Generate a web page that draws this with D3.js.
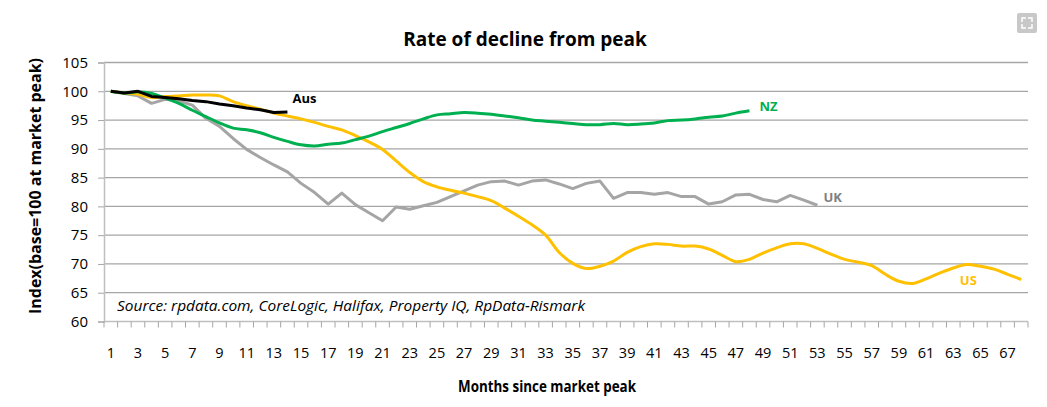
<!DOCTYPE html>
<html>
<head>
<meta charset="utf-8">
<script src="https://cdn.jsdelivr.net/npm/d3@7"></script>
<style>
  body { margin: 0; background: #fff; }
  svg { display: block; font-family: "Open Sans", "Noto Sans", sans-serif; }
</style>
</head>
<body>
<svg id="chart" width="1047" height="407"></svg>
<script>
// months since peak (category axis)
var months = d3.range(1, 69);
var yTicks = [60, 65, 70, 75, 80, 85, 90, 95, 100, 105];

// index values, one per month from month 1
var aus = [100, 99.7, 100, 99.1, 98.9, 98.7, 98.4, 98.2, 97.8, 97.5, 97.1, 96.8, 96.3, 96.4];
var nz = [100, 99.7, 99.9, 99.6, 98.8, 97.9, 96.7, 95.6, 94.5, 93.6, 93.3, 92.8, 92.0, 91.3, 90.7,
    90.5, 90.8, 91.0, 91.6, 92.2, 93.0, 93.7, 94.4, 95.2, 95.9, 96.1, 96.3, 96.2, 96.0, 95.7,
    95.4, 95.0, 94.8, 94.6, 94.4, 94.2, 94.2, 94.4, 94.2, 94.3, 94.5, 94.9, 95.0, 95.2, 95.5,
    95.7, 96.2, 96.6];
var uk = [100, 99.6, 99.2, 97.9, 98.6, 98.3, 97.6, 95.3, 93.9, 91.8, 89.9, 88.5, 87.2, 86.0, 84.0,
    82.4, 80.4, 82.3, 80.3, 78.9, 77.5, 79.9, 79.5, 80.1, 80.7, 81.7, 82.7, 83.7, 84.3, 84.4,
    83.7, 84.4, 84.6, 83.9, 83.1, 84.0, 84.4, 81.4, 82.4, 82.4, 82.1, 82.4, 81.7, 81.7, 80.4,
    80.8, 82.0, 82.1, 81.2, 80.8, 81.9, 81.1, 80.2];
var us = [100, 99.7, 99.5, 98.9, 99.1, 99.2, 99.35, 99.35, 99.2, 98.2, 97.5, 96.9, 96.2, 95.7, 95.2,
    94.6, 93.9, 93.3, 92.3, 91.2, 89.9, 87.9, 85.9, 84.3, 83.4, 82.8, 82.3, 81.7, 81.0, 79.7,
    78.3, 76.8, 75.0, 72.0, 70.1, 69.2, 69.6, 70.5, 72.0, 73.0, 73.5, 73.4, 73.1, 73.1, 72.6,
    71.5, 70.4, 70.8, 71.9, 72.8, 73.5, 73.5, 72.7, 71.7, 70.8, 70.3, 69.7, 68.2, 67.0, 66.6,
    67.4, 68.4, 69.3, 69.9, 69.6, 69.1, 68.2, 67.3];

var svg = d3.select('#chart');

/* plot box (note: "top" is reserved on window, so use other names) */
var plotLeft = 104, plotRight = 1028, plotTop = 62.5, plotBottom = 321.5;

var x = d3.scaleBand().domain(months).range([plotLeft, plotRight]).padding(0);
var y = d3.scaleLinear().domain([60, 105]).range([plotBottom, plotTop]);
var cx = function(m) { return x(m) + x.bandwidth() / 2; };

/* title */
svg.append('text')
    .attr('x', 525).attr('y', 46)
    .attr('text-anchor', 'middle')
    .style('font-size', '19px').style('font-weight', 'bold').style('fill', '#000')
    .text('Rate of decline from peak');

/* horizontal gridlines */
svg.append('g').selectAll('line')
    .data(yTicks.filter(function(t) { return t > 60; }))
    .enter().append('line')
    .attr('x1', plotLeft).attr('x2', plotRight)
    .attr('y1', function(d) { return y(d); })
    .attr('y2', function(d) { return y(d); })
    .style('stroke', '#a6a6a6').style('stroke-width', 1.3);

/* y axis */
var yAxis = svg.append('g')
    .attr('transform', 'translate(' + plotLeft + ',0)')
    .call(d3.axisLeft(y).tickValues(yTicks).tickSize(6).tickPadding(10));
yAxis.select('.domain').style('stroke', '#bfbfbf').style('stroke-width', 1.5);
yAxis.selectAll('.tick line').style('stroke', '#a6a6a6');
yAxis.selectAll('.tick text')
    .style('font-size', '15px').style('fill', '#000').style('font-family', '"Open Sans", sans-serif');

svg.append('text')
    .attr('transform', 'translate(41,' + ((plotTop + plotBottom) / 2 - 6) + ') rotate(-90)')
    .attr('text-anchor', 'middle')
    .attr('textLength', 256).attr('lengthAdjust', 'spacingAndGlyphs')
    .style('font-size', '16px').style('font-weight', 'bold')
    .text('Index(base=100 at market peak)');

/* x axis: line, category boundary ticks, odd-month labels */
svg.append('line')
    .attr('x1', plotLeft).attr('x2', plotRight)
    .attr('y1', plotBottom).attr('y2', plotBottom)
    .style('stroke', '#bfbfbf').style('stroke-width', 1.5);

var bounds = months.map(function(m) { return x(m); }).concat([plotRight]);
svg.append('g').selectAll('line')
    .data(bounds)
    .enter().append('line')
    .attr('x1', function(d) { return d; }).attr('x2', function(d) { return d; })
    .attr('y1', plotBottom).attr('y2', plotBottom + 6)
    .style('stroke', '#a6a6a6');

svg.append('g').selectAll('text')
    .data(months.filter(function(m) { return m % 2 === 1; }))
    .enter().append('text')
    .attr('x', function(d) { return cx(d); })
    .attr('y', 358)
    .attr('text-anchor', 'middle')
    .style('font-size', '14.5px').style('fill', '#000')
    .text(function(d) { return d; });

svg.append('text')
    .attr('x', 547).attr('y', 392)
    .attr('text-anchor', 'middle')
    .attr('textLength', 178).attr('lengthAdjust', 'spacingAndGlyphs')
    .style('font-size', '16.5px').style('font-weight', 'bold')
    .text('Months since market peak');

/* source note */
svg.append('text')
    .attr('x', 117).attr('y', 311)
    .attr('textLength', 468).attr('lengthAdjust', 'spacingAndGlyphs')
    .style('font-size', '14.5px').style('font-style', 'italic').style('fill', '#000')
    .text('Source:  rpdata.com, CoreLogic, Halifax, Property IQ, RpData-Rismark');

/* series */
var straight = d3.line()
    .x(function(d, i) { return cx(i + 1); })
    .y(function(d) { return y(d); });
var smooth = d3.line()
    .x(function(d, i) { return cx(i + 1); })
    .y(function(d) { return y(d); })
    .curve(d3.curveCatmullRom.alpha(0.5));

var series = [
    { name: 'UK', values: uk, color: '#a5a5a5', width: 3, line: straight },
    { name: 'US', values: us, color: '#ffc000', width: 3, line: smooth },
    { name: 'NZ', values: nz, color: '#00b050', width: 3, line: smooth },
    { name: 'Aus', values: aus, color: '#000000', width: 3, line: straight }
];

svg.append('g').selectAll('path')
    .data(series)
    .enter().append('path')
    .attr('d', function(s) { return s.line(s.values); })
    .style('fill', 'none')
    .style('stroke', function(s) { return s.color; })
    .style('stroke-width', function(s) { return s.width; })
    .style('stroke-linejoin', 'round');

/* series labels */
function label(txt, m, v, dx, dy, color) {
    svg.append('text')
        .attr('x', cx(m) + dx).attr('y', y(v) + dy)
        .style('font-size', '13px').style('font-weight', 'bold')
        .style('fill', color)
        .text(txt);
}
label('Aus', aus.length, aus[aus.length - 1], 5, -9, '#000');
label('NZ', nz.length, nz[nz.length - 1], 10, 0, '#00b050');
label('UK', uk.length, uk[uk.length - 1], 6, -3, '#7f7f7f');
label('US', 64, 67, -7, 4, '#ffc000');

/* expand icon top right */
var icon = svg.append('g').attr('transform', 'translate(1017,13)');
icon.append('rect').attr('width', 20).attr('height', 20).attr('rx', 2).style('fill', '#c8c8c8');
icon.append('path')
    .attr('d', 'M5,9V5H9 M11,5H15V9 M15,11V15H11 M9,15H5V11')
    .style('fill', 'none').style('stroke', '#fff').style('stroke-width', 1.5);
</script>
</body>
</html>
